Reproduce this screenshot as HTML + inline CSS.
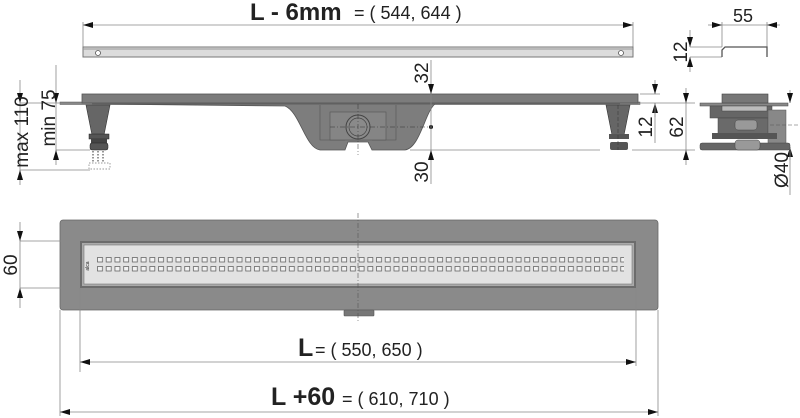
<!DOCTYPE html>
<html><head><meta charset="utf-8"><style>
html,body{margin:0;padding:0;background:#fff;width:800px;height:418px;overflow:hidden}
svg{display:block}
text{font-family:"Liberation Sans",sans-serif;fill:#222}
</style></head><body>
<svg width="800" height="418" viewBox="0 0 800 418" xmlns="http://www.w3.org/2000/svg">
<defs>
<marker id="a" viewBox="0 0 10 6" refX="10" refY="3" markerWidth="10" markerHeight="6" markerUnits="userSpaceOnUse" orient="auto"><path d="M0,0L10,3L0,6z" fill="#111"/></marker>
<marker id="b" viewBox="0 0 10 6" refX="0" refY="3" markerWidth="10" markerHeight="6" markerUnits="userSpaceOnUse" orient="auto"><path d="M10,0L0,3L10,6z" fill="#111"/></marker>
<pattern id="h" x="97" y="257" width="8.72" height="9" patternUnits="userSpaceOnUse"><rect x="0.5" y="0.5" width="5" height="4.5" fill="#f2f2f2" stroke="#666" stroke-width="0.8"/></pattern>
</defs>
<g stroke="#888" stroke-width="0.8" fill="none">
<line x1="83" y1="25" x2="633" y2="25" marker-start="url(#b)" marker-end="url(#a)"/>
<line x1="83" y1="22" x2="83" y2="47"/><line x1="633" y1="22" x2="633" y2="47"/>
</g>
<text x="250" y="20" font-size="24" font-weight="bold">L - 6mm</text>
<text x="354" y="19" font-size="18">= ( 544, 644 )</text>
<rect x="83" y="47" width="550" height="10" fill="#dcdcdc" stroke="#777" stroke-width="1"/>
<line x1="83" y1="49" x2="633" y2="49" stroke="#999"/>
<circle cx="98" cy="53" r="2.5" fill="#fff" stroke="#555" stroke-width="0.8"/>
<circle cx="621" cy="53" r="2.5" fill="#fff" stroke="#555" stroke-width="0.8"/>

<rect x="60" y="102" width="580" height="2.5" fill="#888" stroke="#555" stroke-width="0.5"/>
<rect x="82" y="94" width="556" height="9" fill="#7c7c7c" stroke="#555" stroke-width="0.8"/>
<path d="M92,104 L285,106 C300,112 305,148 320,150 L345,150 L348,142 L368,142 L372,150 L405,150 C420,148 425,112 435,104 L620,104 Z" fill="#7d7d7d" stroke="#555" stroke-width="0.8"/>
<path d="M320,105 L320,140 L345,140 M396,105 L396,140 L372,140" stroke="#555" fill="none" stroke-width="0.6"/>
<rect x="330" y="112" width="56" height="28" fill="#858585" stroke="#555" stroke-width="0.6"/>
<circle cx="358" cy="127" r="12" fill="#8a8a8a" stroke="#444" stroke-width="1"/>
<circle cx="358" cy="127" r="9" fill="none" stroke="#444" stroke-width="0.7"/>
<line x1="330" y1="127" x2="430" y2="127" stroke="#333" stroke-width="0.5" stroke-dasharray="5,2,1,2"/>
<line x1="358" y1="104" x2="358" y2="155" stroke="#333" stroke-width="0.5" stroke-dasharray="5,2,1,2"/>
<circle cx="431" cy="127" r="2" fill="#111"/>
<path d="M86,105 L110,105 L104,135 L92,135 Z" fill="#666" stroke="#333" stroke-width="0.6"/>
<rect x="89" y="134" width="20" height="5" fill="#555" stroke="#222" stroke-width="0.5"/>
<rect x="91" y="139" width="16" height="4" fill="#444"/>
<rect x="90" y="143" width="18" height="7" rx="2" fill="#555" stroke="#222" stroke-width="0.5"/>
<path d="M93,151 v12 M98,151 v12 M103,151 v12" stroke="#777" stroke-dasharray="1.5,1.5" stroke-width="1.5"/>
<rect x="89" y="163" width="21" height="6" fill="none" stroke="#777" stroke-dasharray="1.5,1.5" stroke-width="0.7"/>
<path d="M606,105 L630,105 L624,135 L612,135 Z" fill="#666" stroke="#333" stroke-width="0.6"/>
<rect x="609" y="134" width="20" height="5" fill="#555"/>
<rect x="610" y="142" width="18" height="8" rx="2" fill="#555"/>
<line x1="618" y1="105" x2="618" y2="150" stroke="#333" stroke-width="0.5" stroke-dasharray="4,2"/>
<g stroke="#888" stroke-width="0.8" fill="none">
<line x1="20" y1="103" x2="80" y2="103"/><line x1="20" y1="170" x2="90" y2="170"/>
<line x1="20" y1="80" x2="20" y2="103" marker-end="url(#a)"/><line x1="20" y1="185" x2="20" y2="170" marker-end="url(#a)"/>
<line x1="20" y1="103" x2="20" y2="170"/>
<line x1="56" y1="103" x2="56" y2="150"/>
<line x1="56" y1="150" x2="90" y2="150"/>
<line x1="56" y1="65" x2="56" y2="103" marker-end="url(#a)"/><line x1="56" y1="165" x2="56" y2="150" marker-end="url(#a)"/>
<line x1="431" y1="60" x2="431" y2="94" marker-end="url(#a)"/><line x1="431" y1="94" x2="431" y2="150"/>
<line x1="431" y1="184" x2="431" y2="150" marker-end="url(#a)"/>
<line x1="410" y1="150" x2="600" y2="150"/>
<line x1="640" y1="94" x2="660" y2="94"/><line x1="640" y1="103" x2="695" y2="103"/><line x1="632" y1="150" x2="695" y2="150"/>
<line x1="655" y1="80" x2="655" y2="94" marker-end="url(#a)"/><line x1="655" y1="117" x2="655" y2="103" marker-end="url(#a)"/><line x1="655" y1="103" x2="655" y2="143"/>
<line x1="686" y1="88" x2="686" y2="103" marker-end="url(#a)"/><line x1="686" y1="165" x2="686" y2="150" marker-end="url(#a)"/><line x1="686" y1="103" x2="686" y2="150"/>
<line x1="790" y1="90" x2="790" y2="103" marker-end="url(#a)"/><line x1="790" y1="160" x2="790" y2="147" marker-end="url(#a)"/><line x1="790" y1="147" x2="790" y2="195"/>
<line x1="708" y1="25" x2="722" y2="25" marker-end="url(#a)"/><line x1="780" y1="25" x2="767" y2="25" marker-end="url(#a)"/><line x1="722" y1="25" x2="767" y2="25"/>
<line x1="722" y1="22" x2="722" y2="47"/><line x1="767" y1="22" x2="767" y2="57"/>
<line x1="690" y1="30" x2="690" y2="47" marker-end="url(#a)"/><line x1="690" y1="72" x2="690" y2="57" marker-end="url(#a)"/>
<line x1="690" y1="47" x2="722" y2="47"/><line x1="690" y1="57" x2="722" y2="57"/>
</g>
<path d="M722,57 L722,50 L725,47 L767,47 L767,57" fill="none" stroke="#555" stroke-width="1.3"/>
<g font-size="19" text-anchor="middle">
<text transform="translate(28,132) rotate(-90)">max 110</text>
<text transform="translate(55,118) rotate(-90)">min 75</text>
<text transform="translate(428,73) rotate(-90)">32</text>
<text transform="translate(428,172) rotate(-90)">30</text>
<text transform="translate(652,127) rotate(-90)">12</text>
<text transform="translate(683,127) rotate(-90)">62</text>
<text transform="translate(788,170) rotate(-90)">Ø40</text>
<text transform="translate(687,52) rotate(-90)">12</text>
<text transform="translate(17,265) rotate(-90)">60</text>
</g>
<text x="733" y="22" font-size="18">55</text>
<rect x="700" y="103" width="88" height="3" fill="#888" stroke="#444" stroke-width="0.5"/>
<rect x="722" y="94" width="46" height="9" fill="#777" stroke="#444" stroke-width="0.6"/>
<rect x="710" y="106" width="62" height="12" fill="#666" stroke="#444" stroke-width="0.5"/>
<rect x="722" y="106" width="45" height="5" fill="#bbb" stroke="#444" stroke-width="0.5"/>
<rect x="718" y="118" width="50" height="16" fill="#6a6a6a" stroke="#444" stroke-width="0.5"/>
<rect x="735" y="120" width="22" height="10" rx="3" fill="#999" stroke="#444" stroke-width="0.5"/>
<rect x="768" y="110" width="18" height="37" fill="#888" stroke="#555" stroke-width="0.5"/>
<rect x="712" y="133" width="65" height="6" fill="#555"/>
<rect x="700" y="143" width="90" height="7" rx="2" fill="#666" stroke="#444" stroke-width="0.5"/>
<rect x="735" y="140" width="25" height="10" rx="3" fill="#999" stroke="#444" stroke-width="0.5"/>
<line x1="770" y1="125" x2="800" y2="125" stroke="#555" stroke-width="0.5" stroke-dasharray="4,2"/>

<rect x="60" y="220" width="598" height="90" rx="3" fill="#8a8a8a" stroke="#666" stroke-width="0.8"/>
<rect x="80" y="241" width="556" height="47" fill="#6c6c6c"/>
<rect x="82" y="243" width="552" height="43" fill="#aaa"/>
<rect x="84" y="245" width="548" height="39" fill="#e2e2e2" stroke="#777" stroke-width="0.6"/>
<rect x="97" y="257" width="527" height="16" fill="url(#h)"/>
<text transform="translate(89,266) rotate(-90)" font-size="5" text-anchor="middle" fill="#555">alca</text>
<rect x="344" y="310" width="30" height="6" rx="1" fill="#777" stroke="#555" stroke-width="0.6"/>
<line x1="358" y1="213" x2="358" y2="323" stroke="#555" stroke-width="0.6" stroke-dasharray="5,2,1,2"/>
<g stroke="#888" stroke-width="0.8" fill="none">
<line x1="20" y1="241" x2="80" y2="241"/><line x1="20" y1="288" x2="80" y2="288"/>
<line x1="20" y1="222" x2="20" y2="241" marker-end="url(#a)"/><line x1="20" y1="308" x2="20" y2="288" marker-end="url(#a)"/>
<line x1="20" y1="241" x2="20" y2="288"/>
<line x1="80" y1="288" x2="80" y2="372"/><line x1="636" y1="288" x2="636" y2="366"/>
<line x1="60" y1="310" x2="60" y2="416"/><line x1="658" y1="310" x2="658" y2="416"/>
<line x1="80" y1="362" x2="636" y2="362" marker-start="url(#b)" marker-end="url(#a)"/>
<line x1="60" y1="412" x2="658" y2="412" marker-start="url(#b)" marker-end="url(#a)"/>
</g>
<text x="298" y="356" font-size="25" font-weight="bold">L</text>
<text x="315" y="356" font-size="18">= ( 550, 650 )</text>
<text x="271" y="405" font-size="25" font-weight="bold">L +60</text>
<text x="342" y="405" font-size="18">= ( 610, 710 )</text>
</svg>
</body></html>
